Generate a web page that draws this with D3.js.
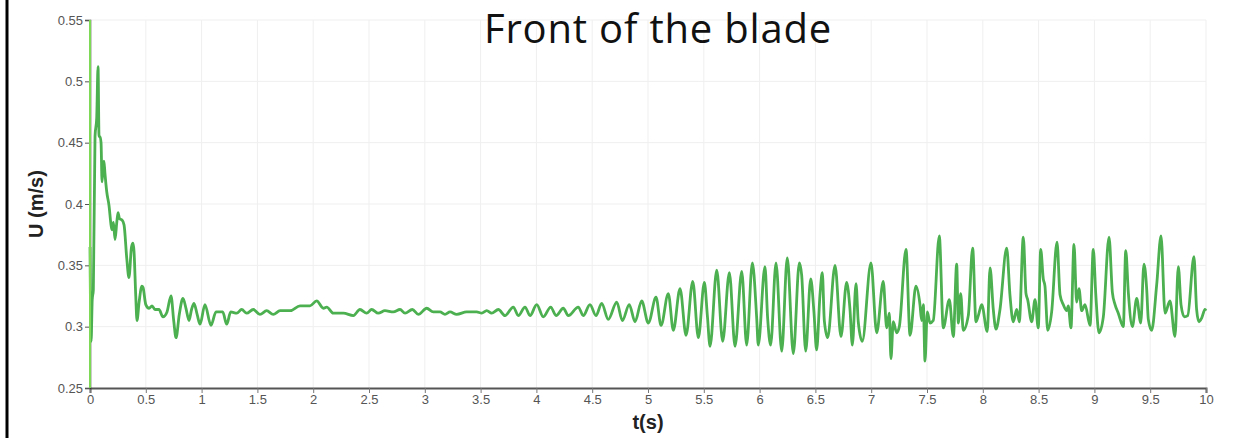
<!DOCTYPE html>
<html><head><meta charset="utf-8">
<script src="https://cdn.jsdelivr.net/npm/d3@7"></script>
<style>body{margin:0;background:#fff}svg{display:block}</style>
</head><body><svg id="c" width="1246" height="438"></svg>
<script>
const title = "Front of the blade";
const xLabel = "t(s)";
const yLabel = "U (m/s)";
const xTicks = [0,0.5,1,1.5,2,2.5,3,3.5,4,4.5,5,5.5,6,6.5,7,7.5,8,8.5,9,9.5,10];
const yTicks = [0.25,0.3,0.35,0.4,0.45,0.5,0.55];
const tValues = [0,0.01,0.02,0.03,0.045,0.06,0.072,0.081,0.09,0.099,0.108,0.117,0.125,0.134,0.15,0.17,0.19,0.197,0.21,0.224,0.24,0.251,0.265,0.287,0.305,0.33,0.349,0.372,0.385,0.394,0.41,0.421,0.44,0.465,0.475,0.5,0.529,0.556,0.582,0.618,0.654,0.69,0.726,0.75,0.771,0.8,0.833,0.86,0.887,0.91,0.932,0.96,0.986,1.03,1.084,1.129,1.165,1.189,1.225,1.261,1.315,1.359,1.404,1.463,1.523,1.583,1.642,1.703,1.792,1.882,1.971,2.031,2.091,2.121,2.18,2.27,2.36,2.419,2.479,2.524,2.583,
2.643,2.718,2.778,2.823,2.888,2.942,3.017,3.076,3.136,3.181,3.226,3.286,3.375,3.465,3.51,3.555,3.599,3.659,3.719,3.793,3.838,3.898,3.943,4.003,4.062,4.128,4.176,4.241,4.286,4.375,4.42,4.48,4.534,4.585,4.644,4.72,4.77,4.832,4.884,4.943,5.003,5.072,5.117,5.182,5.227,5.287,5.341,5.401,5.451,5.505,5.532,5.556,5.616,5.669,5.729,5.78,5.84,5.884,5.935,5.974,5.988,6.048,6.072,6.099,6.147,6.198,6.248,6.302,6.356,6.377,6.413,6.458,6.487,6.511,6.541,6.562,6.58,6.61,6.676,6.729,6.78,6.81,6.831,6.864,6.884,6.92,6.998,7.049,7.108,7.139,7.162,7.177,7.198,7.228,7.252,7.312,7.348,7.401,7.437,7.452,7.467,7.482,7.503,7.527,7.556,7.61,7.646,7.7,7.736,7.766,7.781,7.802,7.825,7.87,7.909,7.939,7.96,7.99,8.04,8.065,8.094,8.118,8.154,8.214,8.244,8.273,8.304,8.327,8.363,8.387,8.402,8.438,8.468,8.497,8.519,8.542,8.557,8.582,8.617,8.665,8.692,8.721,8.752,8.766,8.79,8.817,8.841,8.862,8.886,8.916,8.961,8.99,9.012,9.041,9.08,9.131,9.161,9.185,9.214,9.259,9.281,9.304,9.34,9.379,9.415,9.444,9.469,9.483,9.513,9.558,9.597,9.633,9.677,9.722,9.752,9.776,9.806,9.836,9.892,9.916,9.937,9.961,9.991,10];
const uValues = [0.365,0.288,0.322,0.33,0.455,0.47,0.512,0.455,0.455,0.45,0.418,0.43,0.435,0.425,0.41,0.399,0.382,0.379,0.385,0.371,0.385,0.393,0.388,0.387,0.383,0.355,0.34,0.365,0.368,0.362,0.325,0.305,0.32,0.333,0.332,0.318,0.315,0.317,0.314,0.314,0.308,0.312,0.325,0.305,0.291,0.31,0.323,0.315,0.305,0.314,0.319,0.31,0.302,0.318,0.301,0.312,0.312,0.312,0.302,0.312,0.311,0.314,0.311,0.314,0.31,0.313,0.31,0.313,0.313,0.317,0.317,0.321,0.315,0.316,0.311,0.311,0.309,0.314,0.311,0.314,0.311,
0.313,0.312,0.314,0.311,0.314,0.31,0.315,0.312,0.312,0.31,0.312,0.31,0.312,0.312,0.311,0.313,0.311,0.314,0.309,0.316,0.309,0.316,0.309,0.318,0.308,0.316,0.309,0.315,0.309,0.316,0.309,0.318,0.309,0.319,0.306,0.32,0.305,0.318,0.304,0.321,0.303,0.324,0.301,0.327,0.297,0.331,0.293,0.337,0.291,0.336,0.309,0.284,0.346,0.288,0.344,0.284,0.345,0.285,0.352,0.307,0.285,0.349,0.307,0.285,0.352,0.28,0.356,0.278,0.352,0.342,0.28,0.339,0.312,0.281,0.326,0.344,0.305,0.291,0.35,0.292,0.336,0.314,0.285,0.335,0.304,0.288,0.352,0.295,0.337,0.299,0.311,0.274,0.304,0.295,0.3,0.363,0.293,0.333,0.318,0.305,0.318,0.272,0.312,0.303,0.305,0.374,0.299,0.322,0.292,0.351,0.303,0.327,0.297,0.309,0.364,0.304,0.309,0.318,0.296,0.348,0.314,0.298,0.314,0.364,0.325,0.304,0.314,0.304,0.373,0.327,0.322,0.304,0.322,0.299,0.363,0.339,0.333,0.297,0.312,0.369,0.326,0.318,0.313,0.317,0.299,0.367,0.32,0.331,0.313,0.318,0.301,0.363,0.327,0.295,0.308,0.373,0.328,0.318,0.311,0.3,0.362,0.328,0.3,0.323,0.303,0.351,0.33,0.306,0.297,0.334,0.374,0.311,0.321,0.292,0.349,0.318,0.308,0.309,0.357,0.314,0.304,0.307,0.314,0.313];
const startLineU = [0.25, 0.55];

const svg = d3.select("#c");
const m = {l:90, r:40, t:20, b:50};
const W = 1246, H = 438;
const x = d3.scaleLinear().domain([0,10]).range([m.l, W - m.r]);
const y = d3.scaleLinear().domain([0.25,0.55]).range([H - m.b, m.t]);

// left black bar
svg.append("line").attr("x1",7).attr("x2",7).attr("y1",0).attr("y2",H)
  .attr("stroke","#000").attr("stroke-width",3);

// grid
svg.append("g").selectAll("line").data(xTicks.slice(1)).join("line")
  .attr("x1",d=>x(d)).attr("x2",d=>x(d)).attr("y1",y(0.55)).attr("y2",y(0.25))
  .attr("stroke","#efefef").attr("stroke-width",1);
svg.append("g").selectAll("line").data(yTicks.slice(1)).join("line")
  .attr("x1",x(0)).attr("x2",x(10)).attr("y1",d=>y(d)).attr("y2",d=>y(d))
  .attr("stroke","#efefef").attr("stroke-width",1);

const tickFont = "'Liberation Sans Narrow','Liberation Sans',Arial,sans-serif";
// x axis
const gx = svg.append("g").attr("transform",`translate(0,${y(0.25)})`)
  .call(d3.axisBottom(x).tickValues(xTicks).tickSize(5).tickPadding(2).tickFormat(d3.format("~g")));
gx.select(".domain").attr("stroke","#555").attr("stroke-width",2);
gx.selectAll(".tick line").attr("stroke","#777");
gx.selectAll("text").attr("fill","#555").style("font-family",tickFont).style("font-size","13px");

// y axis
const gy = svg.append("g").attr("transform",`translate(${x(0)},0)`)
  .call(d3.axisLeft(y).tickValues(yTicks).tickSize(5).tickPadding(2).tickFormat(d3.format("~g")));
gy.select(".domain").attr("stroke","#333").attr("stroke-width",1.5);
gy.selectAll(".tick line").attr("stroke","#555");
gy.selectAll("text").attr("fill","#555").style("font-family",tickFont).style("font-size","13px");

// data line
const pts = tValues.map((t,i)=>({t, u:uValues[i]}));
svg.append("path").datum(pts)
  .attr("fill","none").attr("stroke","#4cb050").attr("stroke-width",2.8)
  .attr("stroke-linejoin","round")
  .attr("d", d3.line().x(d=>x(d.t)).y(d=>y(d.u)).curve(d3.curveMonotoneX));

// lime start line
svg.append("line").attr("x1",x(0)).attr("x2",x(0))
  .attr("y1",y(startLineU[0])).attr("y2",y(startLineU[1]))
  .attr("stroke","#7ed957").attr("stroke-width",2);

// labels
svg.append("text").attr("x",(x(0)+x(10))/2).attr("y",429).attr("text-anchor","middle")
  .style("font-family","'Liberation Sans',Arial,sans-serif").style("font-weight","bold").style("font-size","20px")
  .attr("fill","#222").text(xLabel);
svg.append("text").attr("transform",`translate(43,${(y(0.25)+y(0.55))/2}) rotate(-90)`)
  .attr("text-anchor","middle")
  .style("font-family","'Liberation Sans',Arial,sans-serif").style("font-weight","bold").style("font-size","20px")
  .attr("fill","#222").text(yLabel);
svg.append("text").attr("x",658).attr("y",43).attr("text-anchor","middle")
  .style("font-family","'Open Sans','Liberation Sans',sans-serif").style("font-size","40px")
  .style("letter-spacing","0.8px")
  .attr("fill","#111").text(title);
</script></body></html>
